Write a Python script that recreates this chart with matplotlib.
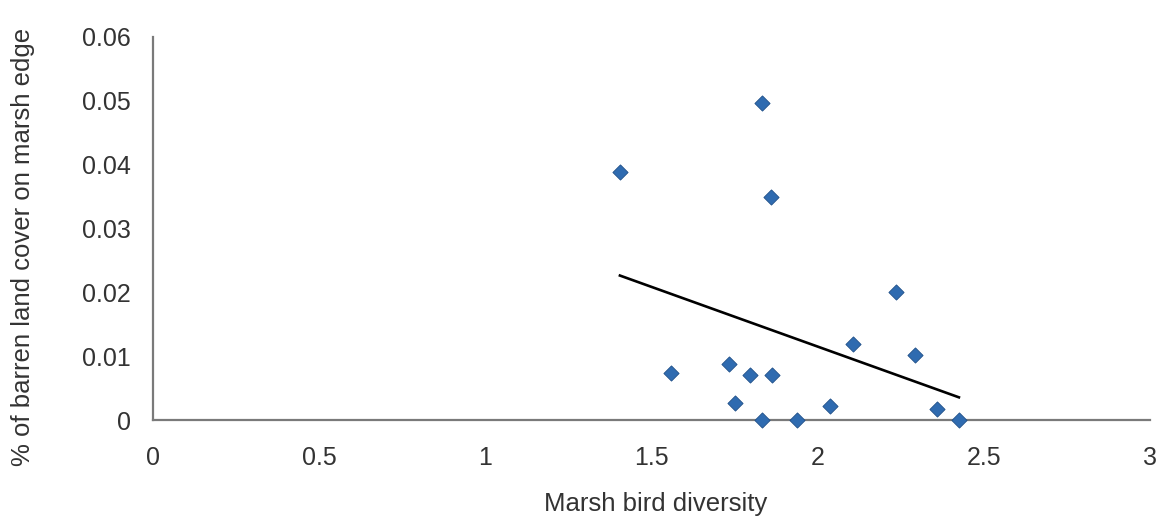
import numpy as np
import matplotlib
matplotlib.use("Agg")
import matplotlib.pyplot as plt

plt.rcParams['font.family'] = ['Liberation Sans', 'DejaVu Sans']

# Data
diversity = [1.405, 1.834, 1.860, 2.236, 2.107, 2.293, 1.558, 1.733,
             1.796, 1.864, 1.751, 2.037, 2.358, 1.834, 1.937, 2.425]
barren = [0.0388, 0.0496, 0.0349, 0.0200, 0.0119, 0.0102, 0.0074, 0.0088,
          0.0070, 0.0070, 0.0027, 0.0022, 0.0017, 0.0, 0.0, 0.0]
x_ticks = [0, 0.5, 1, 1.5, 2, 2.5, 3]
x_tick_labels = ["0", "0.5", "1", "1.5", "2", "2.5", "3"]
y_ticks = [0, 0.01, 0.02, 0.03, 0.04, 0.05, 0.06]
y_tick_labels = ["0", "0.01", "0.02", "0.03", "0.04", "0.05", "0.06"]

W, H = 1158, 520
fig = plt.figure(figsize=(W/100, H/100), dpi=100)
ax = fig.add_axes([153/W, 1 - 420/H, (1150-153)/W, (420-37)/H])

xs = np.array(diversity)
ys = np.array(barren)
slope, intercept = np.polyfit(xs, ys, 1)
xl = np.array([xs.min(), xs.max()])
ax.plot(xl, slope * xl + intercept, color='black', lw=1.9, zorder=2)

ax.scatter(xs, ys, marker='D', s=60, color='#2F6BB0', edgecolors='#1F4F88',
           linewidths=0.6, zorder=3, clip_on=False)

ax.set_xlim(0, 3)
ax.set_ylim(0, 0.06)
ax.set_xticks(x_ticks)
ax.set_xticklabels(x_tick_labels)
ax.set_yticks(y_ticks)
ax.set_yticklabels(y_tick_labels)
ax.tick_params(length=0, labelsize=18, colors='#333333')
ax.tick_params(axis='x', pad=19)
ax.tick_params(axis='y', pad=16)

for s in ['top', 'right']:
    ax.spines[s].set_visible(False)
for s in ['left', 'bottom']:
    ax.spines[s].set_color('#7a7a7a')
    ax.spines[s].set_linewidth(1.6)

fig.text(656/W, 1 - 504/H, "Marsh bird diversity", fontsize=18.5,
         color='#333333', ha='center', va='center')
fig.text(23/W, 1 - 247/H, "% of barren land cover on marsh edge",
         fontsize=18.5, color='#333333', ha='center', va='center',
         rotation=90)

fig.savefig("out.png", dpi=100, facecolor='white')
